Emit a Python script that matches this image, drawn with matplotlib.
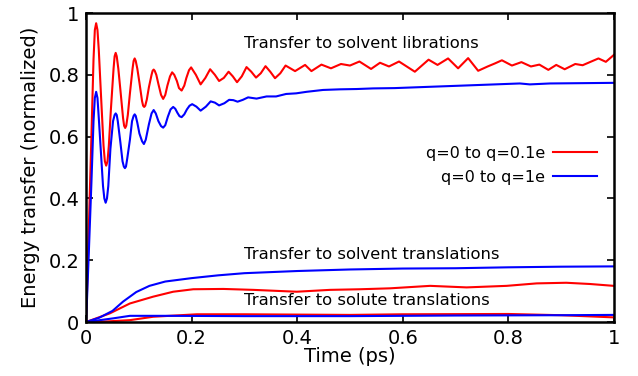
import matplotlib

matplotlib.use("Agg")
import matplotlib.pyplot as plt
from matplotlib.ticker import FuncFormatter

# energy transfer into solvent librations, q=0 -> q=0.1e (red)
lib_red_t = [0, 0.005, 0.010, 0.014, 0.0165, 0.019, 0.0215, 0.024, 0.028, 0.033, 0.0355,
             0.038, 0.0405, 0.043, 0.047, 0.052, 0.054, 0.056, 0.058, 0.061, 0.065,
             0.070, 0.072, 0.074, 0.076, 0.079, 0.083, 0.088, 0.090, 0.092, 0.094,
             0.097, 0.101, 0.106, 0.108, 0.110, 0.112, 0.115, 0.119, 0.124, 0.126,
             0.128, 0.130, 0.133, 0.137, 0.142, 0.146, 0.150, 0.154, 0.159, 0.163,
             0.167, 0.172, 0.176, 0.181, 0.186, 0.190, 0.195, 0.199, 0.208, 0.217,
             0.226, 0.235, 0.244, 0.252, 0.261, 0.270, 0.278, 0.286, 0.295, 0.304,
             0.313, 0.322, 0.331, 0.340, 0.349, 0.358, 0.368, 0.378, 0.396, 0.415,
             0.427, 0.446, 0.464, 0.483, 0.500, 0.518, 0.540, 0.557, 0.574, 0.593,
             0.623, 0.649, 0.666, 0.686, 0.705, 0.724, 0.743, 0.761, 0.775, 0.788,
             0.807, 0.825, 0.843, 0.859, 0.876, 0.891, 0.907, 0.927, 0.941, 0.971,
             0.985, 1.0]
lib_red_y = [0, 0.30, 0.60, 0.85, 0.945, 0.967, 0.945, 0.88, 0.74, 0.57, 0.52,
             0.506, 0.52, 0.57, 0.69, 0.82, 0.86, 0.871, 0.86, 0.82, 0.75,
             0.66, 0.635, 0.628, 0.635, 0.67, 0.74, 0.82, 0.845, 0.853, 0.845,
             0.82, 0.775, 0.715, 0.70, 0.696, 0.70, 0.72, 0.76, 0.80, 0.813,
             0.817, 0.813, 0.80, 0.77, 0.735, 0.722, 0.735, 0.765, 0.795, 0.808,
             0.80, 0.78, 0.757, 0.749, 0.765, 0.79, 0.815, 0.824, 0.80, 0.769,
             0.79, 0.818, 0.80, 0.780, 0.79, 0.810, 0.795, 0.776, 0.795, 0.825,
             0.81, 0.791, 0.805, 0.828, 0.81, 0.789, 0.805, 0.830, 0.812, 0.832,
             0.812, 0.833, 0.821, 0.835, 0.830, 0.843, 0.819, 0.839, 0.827, 0.843,
             0.810, 0.849, 0.832, 0.853, 0.821, 0.854, 0.813, 0.827, 0.837, 0.847,
             0.830, 0.841, 0.827, 0.833, 0.816, 0.832, 0.818, 0.835, 0.831, 0.853,
             0.842, 0.864]

# energy transfer into solvent librations, q=0 -> q=1e (blue)
lib_blue_t = [0, 0.005, 0.010, 0.014, 0.0165, 0.019, 0.0215, 0.024, 0.028, 0.032, 0.0345,
              0.037, 0.0395, 0.042, 0.046, 0.051, 0.054, 0.056, 0.058, 0.060, 0.065,
              0.069, 0.0715, 0.0735, 0.0755, 0.078, 0.083, 0.087, 0.090, 0.092, 0.094,
              0.097, 0.101, 0.106, 0.1095, 0.113, 0.119, 0.124, 0.128, 0.132, 0.137,
              0.142, 0.146, 0.150, 0.155, 0.160, 0.165, 0.169, 0.173, 0.177, 0.181,
              0.186, 0.191, 0.196, 0.201, 0.209, 0.217, 0.227, 0.236, 0.244, 0.252,
              0.262, 0.271, 0.279, 0.287, 0.297, 0.307, 0.323, 0.342, 0.360, 0.379,
              0.398, 0.418, 0.449, 0.481, 0.513, 0.544, 0.585, 0.648, 0.712, 0.775,
              0.822, 0.841, 0.879, 0.941, 1.0]
lib_blue_y = [0, 0.22, 0.45, 0.65, 0.725, 0.745, 0.725, 0.66, 0.55, 0.44, 0.40,
              0.386, 0.40, 0.44, 0.56, 0.65, 0.67, 0.675, 0.67, 0.65, 0.58,
              0.52, 0.503, 0.498, 0.503, 0.53, 0.59, 0.65, 0.667, 0.672, 0.667,
              0.645, 0.61, 0.585, 0.576, 0.59, 0.64, 0.675, 0.686, 0.675, 0.65,
              0.634, 0.629, 0.637, 0.665, 0.688, 0.696, 0.69, 0.677, 0.666, 0.663,
              0.672, 0.688, 0.70, 0.705, 0.697, 0.684, 0.697, 0.714, 0.71, 0.701,
              0.708, 0.719, 0.718, 0.713, 0.719, 0.727, 0.723, 0.730, 0.730, 0.738,
              0.740, 0.745, 0.751, 0.753, 0.754, 0.756, 0.757, 0.761, 0.765, 0.769,
              0.772, 0.769, 0.772, 0.773, 0.774]

# solvent translations
tr_red_t = [0, 0.045, 0.083, 0.127, 0.165, 0.203, 0.26, 0.317, 0.399, 0.462, 0.519,
            0.576, 0.652, 0.721, 0.797, 0.854, 0.910, 0.955, 1.0]
tr_red_y = [0, 0.028, 0.060, 0.082, 0.098, 0.106, 0.107, 0.104, 0.098, 0.104, 0.106,
            0.109, 0.117, 0.112, 0.117, 0.125, 0.127, 0.123, 0.117]
tr_blue_t = [0, 0.025, 0.05, 0.07, 0.095, 0.12, 0.15, 0.2, 0.25, 0.3, 0.4, 0.5,
             0.6, 0.7, 0.8, 0.9, 1.0]
tr_blue_y = [0, 0.014, 0.036, 0.066, 0.097, 0.117, 0.131, 0.142, 0.151, 0.158, 0.165,
             0.170, 0.173, 0.174, 0.177, 0.179, 0.180]

# solute translations
sol_red_t = [0, 0.04, 0.083, 0.127, 0.21, 0.3, 0.5, 0.6, 0.8, 0.9, 1.0]
sol_red_y = [0, 0.002, 0.006, 0.017, 0.025, 0.025, 0.023, 0.025, 0.026, 0.022, 0.015]
sol_blue_t = [0, 0.052, 0.083, 0.15, 0.3, 0.5, 0.7, 0.9, 1.0]
sol_blue_y = [0, 0.012, 0.020, 0.020, 0.019, 0.019, 0.021, 0.022, 0.023]

RED = "#ff0000"
BLUE = "#0000ff"

fig = plt.figure(figsize=(6.38, 3.76), dpi=100)
ax = fig.add_axes([0.135, 0.1436, 0.827, 0.8218])

lw = 1.5
ax.plot(lib_red_t, lib_red_y, color=RED, lw=lw, label="q=0 to q=0.1e")
ax.plot(lib_blue_t, lib_blue_y, color=BLUE, lw=lw, label="q=0 to q=1e")
ax.plot(tr_red_t, tr_red_y, color=RED, lw=lw)
ax.plot(tr_blue_t, tr_blue_y, color=BLUE, lw=lw)
ax.plot(sol_red_t, sol_red_y, color=RED, lw=lw)
ax.plot(sol_blue_t, sol_blue_y, color=BLUE, lw=lw)

ax.text(0.3, 0.9, "Transfer to solvent librations", fontsize=11.8, va="center")
ax.text(0.3, 0.22, "Transfer to solvent translations", fontsize=11.8, va="center")
ax.text(0.3, 0.07, "Transfer to solute translations", fontsize=11.8, va="center")

ax.set_xlim(0, 1)
ax.set_ylim(0, 1)
ticks = [0, 0.2, 0.4, 0.6, 0.8, 1.0]
ax.set_xticks(ticks)
ax.set_yticks(ticks)
fmt = FuncFormatter(lambda v, p: f"{v:g}")
ax.xaxis.set_major_formatter(fmt)
ax.yaxis.set_major_formatter(fmt)
ax.tick_params(direction="in", length=5, width=1.2, top=True, right=True,
               labelsize=14, pad=5)
for s in ax.spines.values():
    s.set_linewidth(1.8)

ax.set_xlabel("Time (ps)", fontsize=14, labelpad=-1)
ax.set_ylabel("Energy transfer (normalized)", fontsize=14, labelpad=6)

leg = ax.legend(loc="upper right", bbox_to_anchor=(0.968, 0.57), frameon=False,
                markerfirst=False, fontsize=11.5, handlelength=2.75,
                handletextpad=0.5, labelspacing=0.56, borderpad=0,
                borderaxespad=0)

fig.savefig("out.png", dpi=100)
